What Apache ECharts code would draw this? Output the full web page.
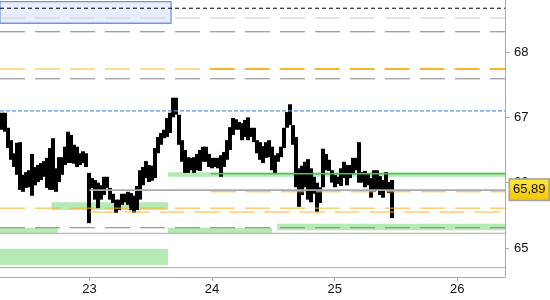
<!DOCTYPE html>
<html>
<head>
<meta charset="utf-8">
<script src="https://cdn.jsdelivr.net/npm/echarts@6/dist/echarts.min.js"></script>
<style>html,body{margin:0;padding:0;background:#fff}#c{width:550px;height:300px}</style>
</head>
<body>
<div id="c"></div>
<script>
// ---- axis ranges (days of month / price) ----
const xMin = 22.27, xMax = 26.389;
const yMin = 64.556, yMax = 68.796;
const xTickValues = [23, 24, 25, 26];
const yTickValues = [65, 66, 67, 68];

// ---- price bars (about 35 minutes each) ----
const barStart = 22.2822, barStep = 0.02447;
const barHigh = [67.07,67.07,66.84,66.65,66.45,66.61,66.62,66.12,66.16,66.19,
 66.44,66.24,66.27,66.30,66.33,66.38,66.53,66.68,66.22,66.39,
 66.39,66.55,66.78,66.73,66.58,66.55,66.45,66.48,66.45,66.15,
 66.07,66.04,66.00,65.96,66.09,66.09,65.92,65.83,65.74,65.74,
 65.83,65.83,65.86,65.84,65.80,65.95,66.19,66.24,66.33,66.27,
 66.26,66.53,66.70,66.76,66.81,66.99,67.07,67.30,67.30,67.04,
 66.65,66.50,66.39,66.38,66.39,66.44,66.50,66.55,66.55,66.44,
 66.38,66.38,66.38,66.42,66.47,66.65,66.85,66.99,66.97,66.93,
 66.91,66.96,67.00,66.84,66.84,66.65,66.62,66.56,66.62,66.65,
 66.55,66.42,66.45,66.55,66.84,67.08,67.20,66.88,66.70,66.22,
 66.26,66.32,66.36,66.22,66.09,66.00,65.93,66.52,66.44,66.35,
 66.19,66.12,66.09,66.22,66.32,66.27,66.27,66.38,66.38,66.62,
 66.16,66.18,66.13,66.07,66.19,66.19,66.10,66.04,66.16,66.01,
 66.04];
const barLow = [66.81,66.78,66.53,66.35,66.24,66.12,65.89,65.86,65.92,65.93,
 65.80,65.96,66.01,66.04,66.09,65.92,65.89,65.89,65.86,66.01,
 66.12,66.27,66.30,66.30,66.29,66.24,66.27,66.30,66.24,65.38,
 65.92,65.74,65.61,65.74,65.81,65.92,65.74,65.69,65.54,65.58,
 65.66,65.70,65.66,65.58,65.54,65.58,65.74,65.96,66.07,66.01,
 66.03,66.07,66.45,66.58,66.68,66.70,66.76,67.00,67.04,66.58,
 66.32,66.15,66.15,66.19,66.15,66.19,66.18,66.32,66.32,66.24,
 66.22,66.24,66.22,66.09,66.24,66.35,66.50,66.73,66.81,66.81,
 66.65,66.70,66.65,66.70,66.62,66.45,66.35,66.30,66.38,66.39,
 66.19,66.15,66.32,66.39,66.53,66.84,66.88,66.58,65.93,65.63,
 65.81,65.93,65.74,65.70,65.83,65.55,65.69,65.93,66.19,66.18,
 66.00,65.93,65.98,65.95,66.07,65.96,66.07,66.13,66.19,66.00,
 66.00,65.93,65.96,65.77,65.86,65.89,65.81,65.77,65.89,65.84,
 65.46];

// ---- horizontal levels: [price, fromDay, toDay] ----
const blackDashLevels = [[68.67, xMin, xMax]];
const lightGrayDashLevels = [[68.52, xMin, xMax]];
const grayDashLevels = [[68.31, xMin, xMax], [67.59, xMin, xMax], [65.31, xMin, xMax]];
const blueDashLevels = [[67.10, xMin, xMax]];
const orangeThinLevels = [[67.74, xMin, 23.98], [65.86, 23.99, xMax], [65.61, xMin, xMax], [65.55, 23.0, xMax]];
const orangeThickLevels = [[67.74, 23.98, xMax]];
const graySolidLevels = [[65.225, xMin, xMax], [64.70, xMin, xMax]];
const greenSolidLevels = [[66.135, 23.99, xMax]];
const lastPrice = 65.89, lastPriceFrom = 23.0;

// ---- zones: [fromDay, toDay, priceTop, priceBottom] ----
const greenZones = [
  [23.64, xMax, 66.16, 66.09],
  [22.69, 23.64, 65.70, 65.58],
  [xMin, 22.74, 65.31, 65.23],
  [23.64, 24.49, 65.31, 65.23],
  [24.53, xMax, 65.37, 65.27],
  [xMin, 23.64, 64.99, 64.74]
];
const blueZones = [[xMin, 23.665, 68.77, 68.44]];

const barData = barHigh.map((h, i) => [barStart + i * barStep, barLow[i], h]);

function levelSeries(levels, style, z) {
  return levels.map(l => ({
    type: 'line', data: [[l[1], l[0]], [l[2], l[0]]], symbol: 'none',
    lineStyle: style, silent: true, z: z, animation: false
  }));
}
function zoneSeries(zones, style, z) {
  return {
    type: 'custom', data: zones, silent: true, z: z, animation: false,
    encode: { x: [0, 1], y: [2, 3] },
    renderItem: function (params, api) {
      const p0 = api.coord([api.value(0), api.value(2)]);
      const p1 = api.coord([api.value(1), api.value(3)]);
      return { type: 'rect', shape: { x: p0[0], y: p0[1], width: p1[0] - p0[0], height: p1[1] - p0[1] }, style: style };
    }
  };
}

const axisCol = '#aaaaaa';
const labelFont = { color: '#111', fontFamily: 'Liberation Sans, Arial, sans-serif', fontSize: 13 };

const chart = echarts.init(document.getElementById('c'), null, { renderer: 'canvas' });
chart.setOption({
  animation: false,
  backgroundColor: '#fff',
  grid: { left: 0, right: 45, top: 0, bottom: 23, containLabel: false },
  xAxis: {
    type: 'value', min: xMin, max: xMax,
    axisLine: { show: true, lineStyle: { color: axisCol } },
    axisTick: { show: true, length: 4, lineStyle: { color: axisCol }, customValues: xTickValues },
    axisLabel: Object.assign({ margin: 6, customValues: xTickValues, formatter: v => String(Math.round(v)) }, labelFont),
    splitLine: { show: false }
  },
  yAxis: {
    type: 'value', position: 'right', min: yMin, max: yMax,
    axisLine: { show: true, lineStyle: { color: axisCol } },
    axisTick: { show: true, length: 4, lineStyle: { color: axisCol }, customValues: yTickValues },
    axisLabel: Object.assign({ margin: 9, customValues: yTickValues, formatter: v => String(Math.round(v)) }, labelFont),
    splitLine: { show: false }
  },
  series: [
    zoneSeries(blueZones, { fill: '#e8eefc', stroke: '#6d96e8', lineWidth: 1.3 }, 1),
    zoneSeries(greenZones, { fill: '#b5eab5' }, 1),
    {
      type: 'custom', data: barData, z: 3, silent: true, animation: false,
      encode: { x: 0, y: [1, 2] },
      renderItem: function (params, api) {
        const x = api.value(0);
        const top = api.coord([x, api.value(2)]);
        const bot = api.coord([x, api.value(1)]);
        const w = api.size([barStep, 0])[0];
        return { type: 'rect', shape: { x: Math.round(top[0] - w / 2), y: top[1], width: Math.ceil(w), height: Math.max(1, bot[1] - top[1]) }, style: { fill: '#000' } };
      }
    },
    ...levelSeries(blackDashLevels, { color: '#000', width: 1, type: [4, 3] }, 4),
    ...levelSeries(lightGrayDashLevels, { color: '#cccccc', width: 1, type: [25, 10] }, 4),
    ...levelSeries(grayDashLevels, { color: '#808080', width: 1, type: [25, 10] }, 4),
    ...levelSeries(blueDashLevels, { color: '#5b8ded', width: 1.2, type: [4, 2] }, 4),
    ...levelSeries(orangeThinLevels, { color: '#f9b52c', width: 1, type: [25, 10] }, 4),
    ...levelSeries(orangeThickLevels, { color: '#f9b52c', width: 2, type: [25, 10] }, 4),
    ...levelSeries(graySolidLevels, { color: '#aaaaaa', width: 1 }, 4),
    ...levelSeries(greenSolidLevels, { color: '#4cc44c', width: 1.5 }, 4),
    {
      type: 'line', data: [[lastPriceFrom, lastPrice], [xMax, lastPrice]], symbol: 'none', silent: true, z: 5,
      lineStyle: { color: '#aaaaaa', width: 1.2 },
      markLine: {
        silent: true, symbol: 'none', animation: false,
        lineStyle: { color: '#aaaaaa', width: 1.2, type: 'solid' },
        data: [[{ coord: [lastPriceFrom, lastPrice] }, { coord: [xMax, lastPrice] }]],
        label: {
          show: true, position: 'end', distance: 5,
          formatter: () => lastPrice.toFixed(2).replace('.', ','),
          color: '#111', fontFamily: 'Liberation Sans, Arial, sans-serif', fontSize: 13,
          padding: [4, 3, 3, 3], borderColor: '#a0a0a0', borderWidth: 1.5,
          backgroundColor: new echarts.graphic.LinearGradient(0, 0, 0, 1, [
            { offset: 0, color: '#ffe93a' }, { offset: 1, color: '#f2c200' }
          ])
        }
      }
    }
  ]
});
</script>
</body>
</html>
